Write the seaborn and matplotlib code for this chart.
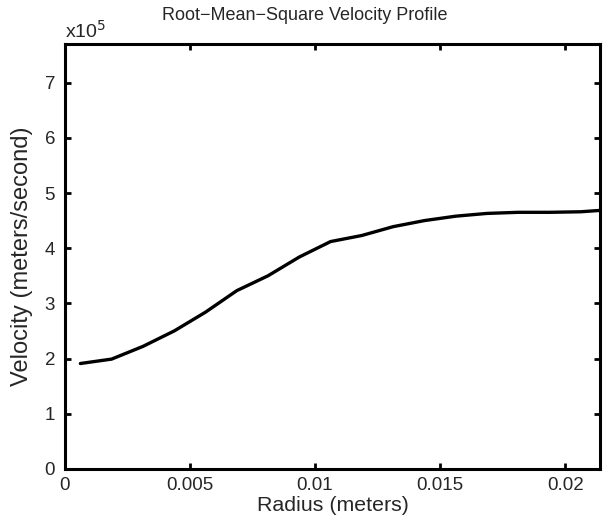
import numpy as np
import pandas as pd
import seaborn as sns
import matplotlib.pyplot as plt
from matplotlib.ticker import FuncFormatter

radius = [0.000625, 0.001875, 0.003125, 0.004375, 0.005625, 0.006875, 0.008125,
          0.009375, 0.010625, 0.011875, 0.013125, 0.014375, 0.015625, 0.016875,
          0.018125, 0.019375, 0.020625, 0.021875]
velocity = [1.91e5, 1.99e5, 2.22e5, 2.50e5, 2.84e5, 3.23e5, 3.50e5,
            3.84e5, 4.12e5, 4.23e5, 4.39e5, 4.50e5, 4.58e5, 4.63e5,
            4.65e5, 4.65e5, 4.66e5, 4.70e5]
xticks = [0, 0.005, 0.01, 0.015, 0.02]
xticklabels = ['0', '0.005', '0.01', '0.015', '0.02']
yticks = [0, 1e5, 2e5, 3e5, 4e5, 5e5, 6e5, 7e5]

df = pd.DataFrame({'Radius': radius, 'Velocity': velocity})

sns.set_style('ticks')
plt.rcParams['font.family'] = ['Liberation Sans', 'DejaVu Sans']

fig = plt.figure(figsize=(6.05, 5.21), dpi=100)
ax = fig.add_axes([0.107, 0.1, 0.885, 0.8155])
sns.lineplot(x='Radius', y='Velocity', data=df, ax=ax, color='black', linewidth=2.4)

ax.set_xlim(0, 0.0214)
ax.set_ylim(0, 7.7e5)
ax.set_xticks(xticks)
ax.set_xticklabels(xticklabels)
ax.set_yticks(yticks)
ax.yaxis.set_major_formatter(FuncFormatter(lambda v, p: '%d' % round(v / 1e5)))
ax.tick_params(direction='in', length=4, width=2, labelsize=13.5, color='black',
               top=True, right=True)
ax.tick_params(axis='x', pad=6)
ax.tick_params(axis='y', pad=7)
for s in ax.spines.values():
    s.set_linewidth(2.2)
    s.set_color('black')

ax.set_xlabel('Radius (meters)', fontsize=15.4, labelpad=1)
ax.set_ylabel('Velocity (meters/second)', fontsize=17, labelpad=8)
ax.set_title('Root\u2212Mean\u2212Square Velocity Profile', fontsize=13, x=0.449, pad=17)
ax.text(0, 1.006, 'x10$^5$', transform=ax.transAxes, fontsize=14, ha='left', va='bottom')

fig.savefig('out.png', dpi=100)
